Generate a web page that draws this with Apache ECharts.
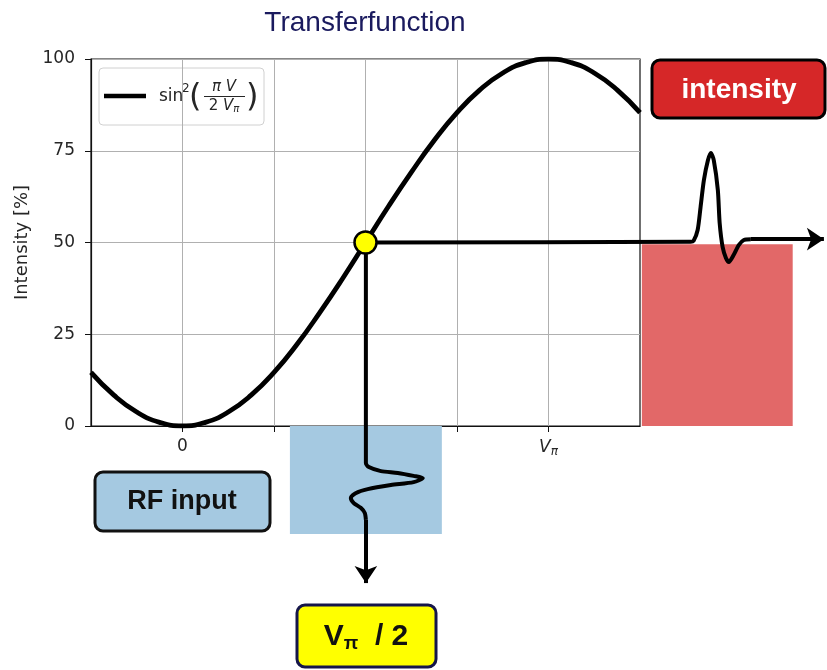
<!DOCTYPE html>
<html>
<head>
<meta charset="utf-8">
<script src="https://cdn.jsdelivr.net/npm/echarts@6/dist/echarts.min.js"></script>
<style>
  html, body { margin: 0; background: #fff; }
  #chart { width: 827px; height: 670px; }
</style>
</head>
<body>
<div id="chart"></div>
<script>
// transfer curve, V in units of V_pi, intensity in %
const curveV = [-0.25, -0.1875, -0.125, -0.0625, 0, 0.0625, 0.125, 0.1875, 0.25, 0.3125, 0.375, 0.4375,
  0.5, 0.5625, 0.625, 0.6875, 0.75, 0.8125, 0.875, 0.9375, 1, 1.0625, 1.125, 1.1875, 1.25];
const curveI = [14.6, 8.4, 3.8, 1.0, 0, 1.0, 3.8, 8.4, 14.6, 22.2, 30.9, 40.2,
  50, 59.8, 69.1, 77.8, 85.4, 91.6, 96.2, 99.0, 100, 99.0, 96.2, 91.6, 85.4];

const xTicks = [0, 0.25, 0.5, 0.75, 1];
const xLabels = [0, 1];
const opPoint = [0.5, 50];

// output intensity pulse (right)
const outX = [0.5, 1.384, 1.392, 1.403, 1.411, 1.420, 1.431, 1.439, 1.447, 1.458, 1.463, 1.471,
  1.480, 1.488, 1.501, 1.515, 1.529, 1.548];
const outY = [50, 50.2, 50.5, 53.4, 59.7, 67.0, 72.4, 74.4, 72.4, 64.3, 55.3, 48.8,
  45.8, 44.7, 46.6, 49.3, 50.7, 50.9];
const outArrowEnd = [1.747, 50.9];

// RF input pulse (below)
const inX = [0.499, 0.499, 0.507, 0.540, 0.586, 0.629, 0.654, 0.629, 0.567, 0.504, 0.471, 0.458,
  0.466, 0.485, 0.496, 0.499];
const inY = [50, -10.1, -11.2, -12.3, -12.8, -13.6, -14.2, -15.3, -16.1, -17.2, -18.3, -19.6,
  -21.0, -22.3, -23.7, -25.6];
const inArrowEnd = [0.499, -42.8];

// shaded regions [x1, y1, x2, y2]
const redBox = [1.251, 0, 1.662, 49.5];
const blueBox = [0.292, 0, 0.706, -29.4];

const chart = echarts.init(document.getElementById('chart'));
const ink = '#262626';

chart.setOption({
  animation: false,
  grid: [
    { left: 91, top: 59, width: 549, height: 367, show: true, borderColor: '#111', borderWidth: 1.2 },
    { left: 91, top: 59, width: 734, height: 587.2 }
  ],
  xAxis: [
    {
      gridIndex: 0, type: 'value', min: -0.25, max: 1.25, interval: 0.25,
      axisLine: { onZero: false, lineStyle: { color: '#111', width: 1.2 } },
      axisTick: { customValues: xTicks, length: 6, lineStyle: { color: '#111' } },
      axisLabel: {
        customValues: xLabels, margin: 12, color: ink, fontSize: 17, fontFamily: 'DejaVu Sans',
        formatter: v => v === 0 ? '0' : '{v|V}{p|π}',
        rich: {
          v: { fontStyle: 'italic', fontSize: 17, color: ink, fontFamily: 'DejaVu Sans' },
          p: { fontStyle: 'italic', fontSize: 12, color: ink, fontFamily: 'DejaVu Sans', padding: [8, 0, 0, 0] }
        }
      },
      splitLine: { show: true, lineStyle: { color: '#b0b0b0', width: 1 } }
    },
    { gridIndex: 1, type: 'value', min: -0.25, max: 1.75, show: false }
  ],
  yAxis: [
    {
      gridIndex: 0, type: 'value', min: 0, max: 100, interval: 25,
      name: 'Intensity [%]', nameLocation: 'middle', nameGap: 58,
      nameTextStyle: { color: ink, fontSize: 18, fontFamily: 'DejaVu Sans' },
      axisLine: { show: true, onZero: false, lineStyle: { color: '#111', width: 1.2 } },
      axisTick: { show: true, length: 6, lineStyle: { color: '#111' } },
      axisLabel: { margin: 16, color: ink, fontSize: 17, fontFamily: 'DejaVu Sans' },
      splitLine: { show: true, lineStyle: { color: '#b0b0b0', width: 1 } }
    },
    { gridIndex: 1, type: 'value', min: -60, max: 100, show: false }
  ],
  series: [
    {
      type: 'line', xAxisIndex: 1, yAxisIndex: 1, data: [], z: 1, silent: true,
      markArea: {
        silent: true,
        data: [
          [{ coord: [redBox[0], redBox[1]], itemStyle: { color: '#e26868' } }, { coord: [redBox[2], redBox[3]] }],
          [{ coord: [blueBox[0], blueBox[1]], itemStyle: { color: '#a5c9e1' } }, { coord: [blueBox[2], blueBox[3]] }]
        ]
      }
    },
    {
      type: 'line', xAxisIndex: 0, yAxisIndex: 0, z: 3,
      data: curveV.map((v, i) => [v, curveI[i]]),
      smooth: true, showSymbol: false, clip: true,
      lineStyle: { color: '#000', width: 4.8 }
    },
    {
      type: 'line', xAxisIndex: 1, yAxisIndex: 1, z: 4, clip: false,
      data: outX.map((v, i) => [v, outY[i]]),
      smooth: 0.25, showSymbol: false,
      lineStyle: { color: '#000', width: 4, join: 'round' },
      markLine: {
        silent: true, symbol: ['none', 'arrow'], symbolSize: [17, 17],
        label: { show: false }, lineStyle: { color: '#000', width: 4, type: 'solid' },
        data: [[{ coord: [outX[outX.length - 1], outY[outY.length - 1]] }, { coord: outArrowEnd }]]
      }
    },
    {
      type: 'line', xAxisIndex: 1, yAxisIndex: 1, z: 4, clip: false,
      data: inX.map((v, i) => [v, inY[i]]),
      smooth: 0.25, showSymbol: false,
      lineStyle: { color: '#000', width: 4, join: 'round' },
      markLine: {
        silent: true, symbol: ['none', 'arrow'], symbolSize: [17, 17],
        label: { show: false }, lineStyle: { color: '#000', width: 4, type: 'solid' },
        data: [[{ coord: [inX[inX.length - 1], inY[inY.length - 1]] }, { coord: inArrowEnd }]]
      }
    },
    {
      type: 'scatter', xAxisIndex: 0, yAxisIndex: 0, z: 10,
      data: [opPoint], symbolSize: 22,
      itemStyle: { color: '#ffff00', borderColor: '#000', borderWidth: 2.5, opacity: 1 }
    }
  ],
  graphic: [
    {
      type: 'text', x: 365, y: 23, z: 20,
      style: { text: 'Transferfunction', font: '28px "Liberation Sans"', fill: '#1a1a5e',
        align: 'center', verticalAlign: 'middle', textAlign: 'center', textVerticalAlign: 'middle' }
    },
    // legend
    {
      type: 'group', z: 20, children: [
        { type: 'rect', shape: { x: 99, y: 68, width: 165, height: 57, r: 4 },
          style: { fill: 'rgba(255,255,255,0.8)', stroke: '#d0d0d0', lineWidth: 1 } },
        { type: 'line', shape: { x1: 104, y1: 96, x2: 146, y2: 96 }, style: { stroke: '#000', lineWidth: 4.5 } },
        { type: 'text', x: 159, y: 97, style: { text: 'sin', font: '17px "DejaVu Sans"', fill: ink,
          verticalAlign: 'middle', textVerticalAlign: 'middle' } },
        { type: 'text', x: 182, y: 89, style: { text: '2', font: '12px "DejaVu Sans"', fill: ink,
          verticalAlign: 'middle', textVerticalAlign: 'middle' } },
        { type: 'text', x: 189, y: 98, style: { text: '(', font: '32px "DejaVu Sans"', fill: ink,
          verticalAlign: 'middle', textVerticalAlign: 'middle' } },
        { type: 'text', x: 224, y: 87, style: { text: 'π V', font: 'italic 15px "DejaVu Sans"', fill: ink,
          align: 'center', verticalAlign: 'middle', textAlign: 'center', textVerticalAlign: 'middle' } },
        { type: 'line', shape: { x1: 204, y1: 96.5, x2: 245, y2: 96.5 }, style: { stroke: ink, lineWidth: 1 } },
        { type: 'text', x: 224, y: 106, style: {
          text: '{n|2 }{i|V}{s|π}', align: 'center', verticalAlign: 'middle', textAlign: 'center', textVerticalAlign: 'middle',
          rich: {
            n: { fontSize: 15, fontFamily: 'DejaVu Sans', fill: ink, color: ink },
            i: { fontSize: 15, fontStyle: 'italic', fontFamily: 'DejaVu Sans', fill: ink, color: ink },
            s: { fontSize: 10, fontStyle: 'italic', fontFamily: 'DejaVu Sans', fill: ink, color: ink, padding: [7, 0, 0, 0] }
          } } },
        { type: 'text', x: 246, y: 98, style: { text: ')', font: '32px "DejaVu Sans"', fill: ink,
          verticalAlign: 'middle', textVerticalAlign: 'middle' } }
      ]
    },
    // intensity box
    {
      type: 'group', z: 20, children: [
        { type: 'rect', shape: { x: 652, y: 60, width: 173, height: 58, r: 8 },
          style: { fill: '#d62728', stroke: '#000', lineWidth: 3 } },
        { type: 'text', x: 739, y: 90, style: { text: 'intensity', font: 'bold 28px "Liberation Sans"', fill: '#fff',
          align: 'center', verticalAlign: 'middle', textAlign: 'center', textVerticalAlign: 'middle' } }
      ]
    },
    // RF input box
    {
      type: 'group', z: 20, children: [
        { type: 'rect', shape: { x: 95, y: 472, width: 175, height: 59, r: 8 },
          style: { fill: '#a5c9e1', stroke: '#111', lineWidth: 3 } },
        { type: 'text', x: 182, y: 502, style: { text: 'RF input', font: 'bold 27px "Liberation Sans"', fill: '#111',
          align: 'center', verticalAlign: 'middle', textAlign: 'center', textVerticalAlign: 'middle' } }
      ]
    },
    // V_pi / 2 box
    {
      type: 'group', z: 20, children: [
        { type: 'rect', shape: { x: 297, y: 605, width: 139, height: 62, r: 8 },
          style: { fill: '#ffff00', stroke: '#16164a', lineWidth: 3 } },
        { type: 'text', x: 366, y: 637, style: {
          text: '{v|V}{s|π}{v|  / 2}', align: 'center', verticalAlign: 'middle', textAlign: 'center', textVerticalAlign: 'middle',
          rich: {
            v: { fontSize: 30, fontWeight: 'bold', fontFamily: 'Liberation Sans', fill: '#111', color: '#111' },
            s: { fontSize: 19, fontWeight: 'bold', fontFamily: 'Liberation Sans', fill: '#111', color: '#111', padding: [13, 0, 0, 0] }
          } } }
      ]
    }
  ]
});
</script>
</body>
</html>
